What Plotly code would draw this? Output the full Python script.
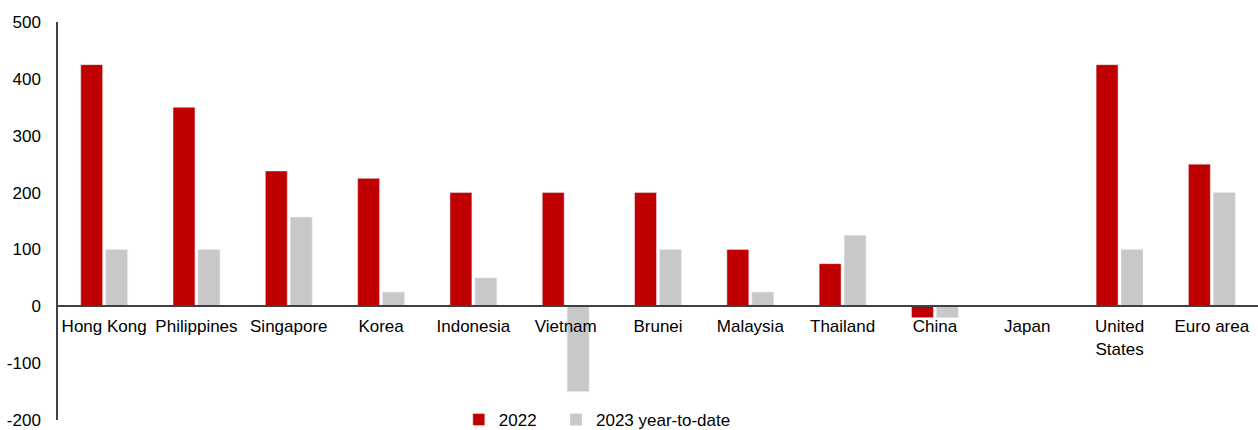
import plotly.graph_objects as go

categories = ["Hong Kong", "Philippines", "Singapore", "Korea", "Indonesia", "Vietnam",
              "Brunei", "Malaysia", "Thailand", "China", "Japan", "United<br>States", "Euro area"]
values_2022 = [425, 350, 238, 225, 200, 200, 200, 100, 75, -20, 0, 425, 250]
values_2023 = [100, 100, 157, 25, 50, -150, 100, 25, 125, -20, 0, 100, 200]
y_ticks = [-200, -100, 0, 100, 200, 300, 400, 500]
y_tick_text = ["-200", "-100", "0", "100", "200", "300", "400", "500"]

fig = go.Figure()
fig.add_trace(go.Bar(x=categories, y=values_2022, name="2022", marker_color="#C00000",
                     legend="legend"))
fig.add_trace(go.Bar(x=categories, y=values_2023, name="2023 year-to-date",
                     marker_color="#C8C8C8", legend="legend2"))

font = dict(family="Liberation Sans, Arial, sans-serif", size=17, color="#000000")
legend_common = dict(orientation="h", xanchor="left", y=0.0, yanchor="middle",
                     font=dict(size=17), itemwidth=30, bgcolor="rgba(0,0,0,0)")
fig.update_layout(
    width=1258, height=430,
    margin=dict(l=58, r=0, t=22, b=10, autoexpand=False),
    paper_bgcolor="white", plot_bgcolor="white",
    font=font,
    barmode="group", bargap=0.46, bargroupgap=0.12,
    showlegend=True,
    legend=dict(x=0.334, **legend_common),
    legend2=dict(x=0.415, **legend_common),
    xaxis=dict(anchor="free", position=2/7, showline=True, linecolor="#404040", linewidth=1.5,
               ticks="", showgrid=False, zeroline=False, tickfont=font, automargin=False,
               ticklabelstandoff=5),
    yaxis=dict(range=[-200, 500], tickvals=y_ticks, ticktext=y_tick_text, showline=True,
               linecolor="#404040", linewidth=1.5, ticks="", showgrid=False, zeroline=False,
               tickfont=font, automargin=False, ticklabelstandoff=12,
               ticklabeloverflow="allow"),
)
fig.write_html(
    "out.html",
    config={"displayModeBar": False},
    post_script="document.body.style.margin='0';document.body.style.overflow='hidden';",
)
